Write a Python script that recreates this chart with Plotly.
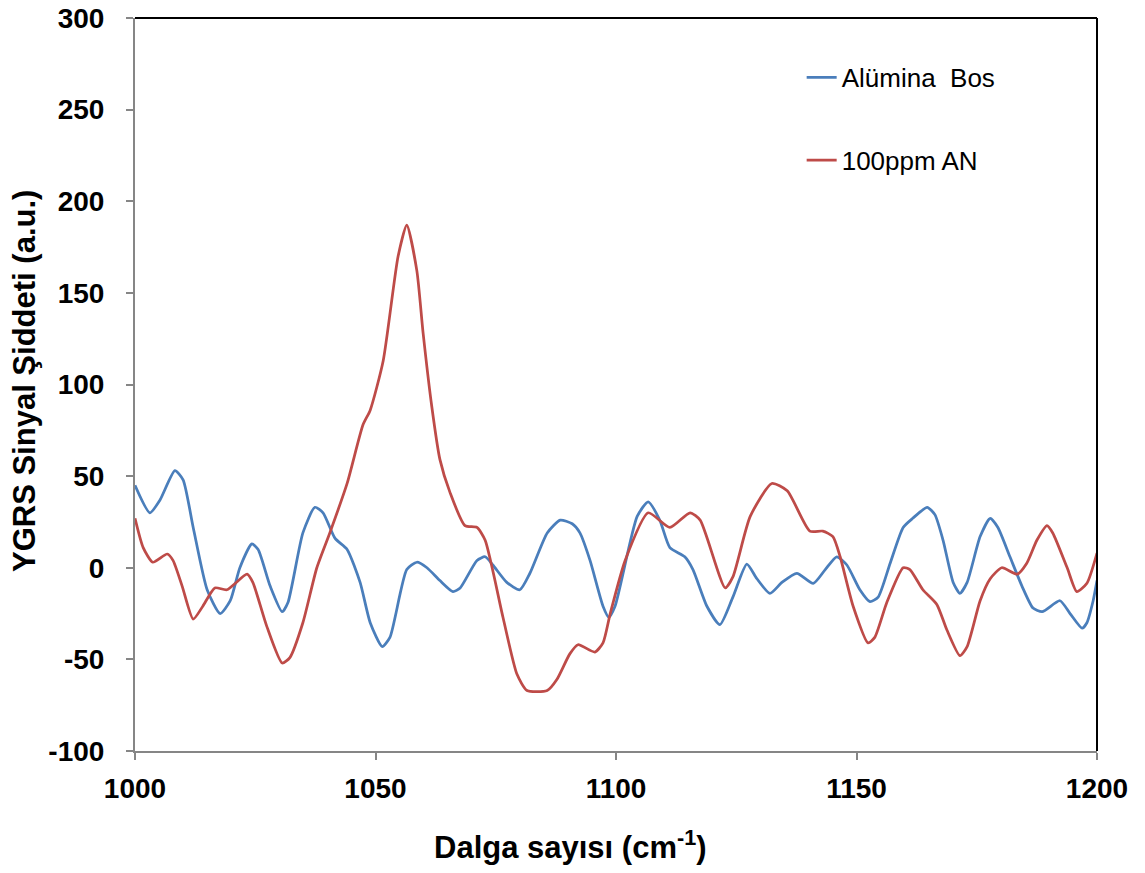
import plotly.graph_objects as go

# Blue series: Alümina Bos
blue_x = [1000, 1003.1, 1005.2, 1008.3, 1010.0, 1012.1, 1015.0, 1017.7, 1019.8, 1021.8,
          1024.3, 1025.6, 1028.1, 1030.6, 1031.8, 1034.9, 1037.4, 1039.1, 1041.6, 1044.1,
          1046.8, 1048.9, 1051.4, 1053.0, 1056.5, 1058.6, 1060.7, 1063.4, 1066.1, 1067.6,
          1071.1, 1072.8, 1074.4, 1077.3, 1080.0, 1082.1, 1085.7, 1088.4, 1090.9, 1092.5,
          1094.6, 1097.3, 1098.5, 1099.8, 1104.4, 1106.7, 1109.1, 1111.2, 1114.3, 1116.0,
          1118.9, 1121.6, 1124.3, 1127.2, 1129.3, 1132.0, 1134.5, 1137.6, 1141.0, 1143.5,
          1145.9, 1148.0, 1150.7, 1152.8, 1154.5, 1157.0, 1159.7, 1161.7, 1164.7, 1166.3,
          1168.0, 1170.1, 1171.5, 1173.0, 1175.7, 1177.8, 1179.4, 1181.9, 1184.4, 1186.7,
          1188.6, 1192.3, 1194.4, 1196.9, 1197.9, 1199.2, 1200]
blue_y = [45, 30, 37, 53, 48, 22, -12, -25, -18, 0,
          13, 10, -10, -24, -19, 19, 33, 30, 16, 10,
          -8, -30, -43, -38, -1, 3, 0, -7, -13, -11,
          4, 6, 1.5, -8, -12, -3, 19, 26, 24, 19,
          4, -21, -27, -21, 28, 36, 26, 11, 6, -1,
          -21, -31, -16, 2, -6, -14, -8, -3, -8.5, -1,
          6, 1.5, -12, -18.5, -16, 2.5, 22, 27, 33, 29,
          15, -8, -14, -8, 17, 27, 22, 6, -10, -22,
          -24, -18, -25, -33, -30, -18, -7]

# Red series: 100ppm AN
red_x = [1000, 1001.7, 1003.7, 1006.7, 1007.9, 1009.8, 1012.1, 1014.1, 1016.6, 1019.1,
         1023.3, 1024.5, 1027.4, 1030.6, 1032.2, 1034.9, 1037.8, 1040.5, 1044.1, 1047.4,
         1048.9, 1051.6, 1054.7, 1056.5, 1058.6, 1059.9, 1061.7, 1063.4, 1065.5, 1068.6,
         1071.1, 1072.8, 1076.5, 1079.4, 1081.5, 1085.7, 1087.7, 1090.4, 1092.1, 1095.6,
         1097.3, 1098.8, 1101.9, 1106.7, 1111.2, 1115.4, 1117.5, 1122.7, 1124.3, 1127.9,
         1132.4, 1135.6, 1140.3, 1143.0, 1145.1, 1146.6, 1149.3, 1152.4, 1153.8, 1156.3,
         1159.7, 1161.1, 1163.8, 1166.7, 1168.8, 1171.5, 1173.0, 1175.7, 1177.8, 1180.2,
         1183.4, 1185.4, 1187.5, 1189.6, 1190.8, 1193.8, 1195.8, 1197.9, 1200]
red_y = [27, 11, 3, 7.5, 4, -10, -28, -21, -11, -12,
         -3.5, -8, -32, -52, -49, -30, 0, 19, 46, 78,
         86, 113, 170, 187, 162, 128, 88, 59, 41, 23,
         22, 15, -27, -58, -67, -67, -61, -47, -42, -46,
         -41, -25, 4, 30, 22, 30, 26, -11, -5, 28,
         46, 42, 20, 20, 17, 6, -21, -41, -38, -19,
         0, -1, -12, -20, -34, -48, -43, -18, -6, 0,
         -3.5, 2.5, 15, 23, 19, 0, -13, -8.5, 8]

series_names = ["Alümina\u00a0 Bos", "100ppm AN"]
series_colors = ["#4A7EBB", "#BE4B48"]
x_ticks = [1000, 1050, 1100, 1150, 1200]
x_ticktext = ["1000", "1050", "1100", "1150", "1200"]
y_ticks = [-100, -50, 0, 50, 100, 150, 200, 250, 300]
y_ticktext = ["-100", "-50", "0", "50", "100", "150", "200", "250", "300"]
x_title = "Dalga sayısı (cm<sup>-1</sup>)"
y_title = "YGRS Sinyal Şiddeti (a.u.)"

FONT = "Arial, 'Liberation Sans', sans-serif"

fig = go.Figure()
for name, xs, ys, col, grp in [(series_names[0], blue_x, blue_y, series_colors[0], "a"),
                               (series_names[1], red_x, red_y, series_colors[1], "b")]:
    fig.add_trace(go.Scatter(x=xs, y=ys, mode="lines", name=name, legendgroup=grp,
                             line=dict(color=col, width=2.75, shape="spline", smoothing=0.6)))

axis_common = dict(showgrid=False, zeroline=False, showline=True, linecolor="#868686",
                   linewidth=2, ticks="outside", tickcolor="#868686", ticklen=7, tickwidth=1.5,
                   automargin=False, ticklabeloverflow="allow",
                   tickfont=dict(family=FONT, size=28, color="black", weight="bold"))

fig.update_layout(
    width=1145, height=873,
    margin=dict(l=127, r=56, t=10, b=130),
    paper_bgcolor="white", plot_bgcolor="white",
    font=dict(family=FONT, color="black"),
    xaxis=dict(range=[1000, 1200], tickvals=x_ticks, ticktext=x_ticktext,
               ticklabelstandoff=4, **axis_common),
    yaxis=dict(range=[-100, 300], tickvals=y_ticks, ticktext=y_ticktext,
               ticklabelstandoff=16, **axis_common),
    legend=dict(x=0.693, y=0.951, xanchor="left", yanchor="top", bgcolor="rgba(0,0,0,0)",
                font=dict(family=FONT, size=26, color="black"), tracegroupgap=46,
                traceorder="grouped"),
    annotations=[
        dict(text=x_title, xref="paper", yref="paper", x=0.453, y=-0.128,
             xanchor="center", yanchor="middle", showarrow=False,
             font=dict(family=FONT, size=31, color="black", weight="bold")),
        dict(text=y_title, xref="paper", yref="paper", x=-0.1143, y=0.5048,
             xanchor="center", yanchor="middle", showarrow=False, textangle=-90,
             font=dict(family=FONT, size=31, color="black", weight="bold")),
    ],
    shapes=[
        dict(type="line", xref="paper", yref="paper", x0=0, x1=1, y0=1, y1=1,
             line=dict(color="black", width=2)),
        dict(type="line", xref="paper", yref="paper", x0=1, x1=1, y0=0, y1=1,
             line=dict(color="black", width=2)),
    ],
)

fig.write_html("out.html")
